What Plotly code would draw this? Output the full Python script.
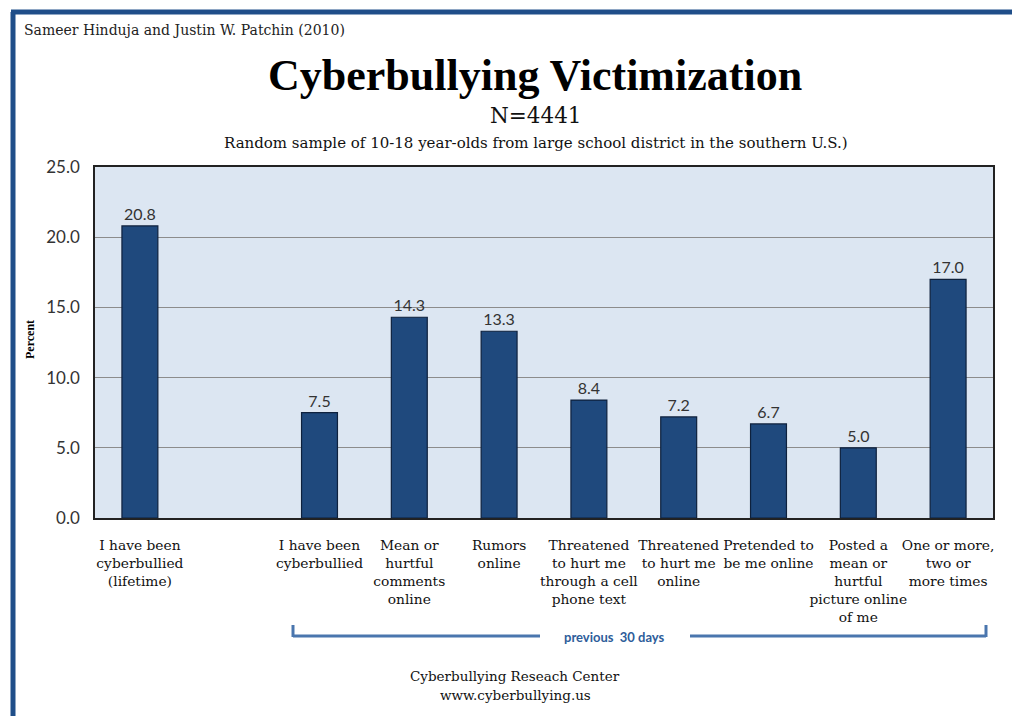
import plotly.graph_objects as go

categories = [
    "I have been<br>cyberbullied<br>(lifetime)",
    " ",
    "I have been<br>cyberbullied",
    "Mean or<br>hurtful<br>comments<br>online",
    "Rumors<br>online",
    "Threatened<br>to hurt me<br>through a cell<br>phone text",
    "Threatened<br>to hurt me<br>online",
    "Pretended to<br>be me online",
    "Posted a<br>mean or<br>hurtful<br>picture online<br>of me",
    "One or more,<br>two or<br>more times",
]
values = [20.8, None, 7.5, 14.3, 13.3, 8.4, 7.2, 6.7, 5.0, 17.0]
value_labels = ["20.8", "", "7.5", "14.3", "13.3", "8.4", "7.2", "6.7", "5.0", "17.0"]
y_ticks = [0, 5, 10, 15, 20, 25]
y_tick_labels = ["0.0", "5.0", "10.0", "15.0", "20.0", "25.0"]

SERIF = "DejaVu Serif"
TITLE_SERIF = "Liberation Serif"
SANS = "Lato"

OFF = 8  # page body margin
FW, FH = 1020 - OFF, 716 - OFF

fig = go.Figure()
fig.add_trace(go.Bar(
    x=categories, y=values, width=0.4,
    marker=dict(color="#1F497D", line=dict(color="#0E213D", width=1.2)),
    text=value_labels, textposition="outside", cliponaxis=False,
    textfont=dict(family=SANS, size=16, color="#333333"),
))

# plot-area geometry (reference px) used to place decorations in paper coords
L, R, T, B = 95, 993, 167, 518
W, H = R - L, B - T
def px(x): return (x - L) / W
def py(y): return (B - y) / H

shapes = []
frame_col = "#1F4E89"
shapes.append(dict(type="line", xref="paper", yref="paper", x0=px(13), x1=px(13), y0=py(12), y1=py(730), line=dict(color=frame_col, width=5)))
shapes.append(dict(type="line", xref="paper", yref="paper", x0=px(11), x1=px(1017), y0=py(12), y1=py(12), line=dict(color=frame_col, width=5)))
shapes.append(dict(type="line", xref="paper", yref="paper", x0=px(1015), x1=px(1015), y0=py(10), y1=py(730), line=dict(color=frame_col, width=5)))
br_col = "#4A76AE"
shapes.append(dict(type="line", xref="paper", yref="paper", x0=px(293), x1=px(540), y0=py(636), y1=py(636), line=dict(color=br_col, width=3)))
shapes.append(dict(type="line", xref="paper", yref="paper", x0=px(293), x1=px(293), y0=py(625), y1=py(637), line=dict(color=br_col, width=3)))
shapes.append(dict(type="line", xref="paper", yref="paper", x0=px(690), x1=px(986), y0=py(636), y1=py(636), line=dict(color=br_col, width=3)))
shapes.append(dict(type="line", xref="paper", yref="paper", x0=px(986), x1=px(986), y0=py(625), y1=py(637), line=dict(color=br_col, width=3)))

annotations = [
    dict(text="Sameer Hinduja and Justin W. Patchin (2010)", x=px(22), y=py(30), xanchor="left", yanchor="middle",
         font=dict(family=SERIF, size=14, color="#222222")),
    dict(text="<b>Cyberbullying Victimization</b>", x=px(535), y=py(76), xanchor="center", yanchor="middle",
         font=dict(family=TITLE_SERIF, size=44, color="#000000")),
    dict(text="N=4441", x=px(536), y=py(115), xanchor="center", yanchor="middle",
         font=dict(family=SERIF, size=21.5, color="#111111")),
    dict(text="Random sample of 10-18 year-olds from large school district in the southern U.S.)", x=px(536), y=py(143),
         xanchor="center", yanchor="middle", font=dict(family=SERIF, size=15, color="#111111")),
    dict(text="<b>Percent</b>", x=px(30), y=py(340), textangle=-90, xanchor="center", yanchor="middle",
         font=dict(family=TITLE_SERIF, size=12, color="#000000")),
    dict(text="<b>previous  30 days</b>", x=px(614), y=py(637), xanchor="center", yanchor="middle",
         font=dict(family=SANS, size=13, color="#2E5D9A")),
    dict(text="Cyberbullying Reseach Center", x=px(515), y=py(676), xanchor="center", yanchor="middle",
         font=dict(family=SERIF, size=13.5, color="#111111")),
    dict(text="www.cyberbullying.us", x=px(515), y=py(695), xanchor="center", yanchor="middle",
         font=dict(family=SERIF, size=13.5, color="#111111")),
]
for a in annotations:
    a.update(xref="paper", yref="paper", showarrow=False)

fig.update_layout(
    width=FW, height=FH,
    margin=dict(l=L - OFF, r=FW - (R - OFF), t=T - OFF, b=FH - (B - OFF)),
    paper_bgcolor="white", plot_bgcolor="#DCE6F2",
    showlegend=False, bargap=0.6,
    shapes=shapes, annotations=annotations,
    xaxis=dict(type="category", showgrid=False, showline=True, linecolor="#222222", linewidth=1.5, mirror=True,
               tickangle=0,
               tickfont=dict(family=SERIF, size=13.8, color="#111111"), ticks="", ticklabelstandoff=14),
    yaxis=dict(range=[0, 25], tickvals=y_ticks, ticktext=y_tick_labels, showgrid=True, gridcolor="#8C8C8C", gridwidth=1,
               showline=True, linecolor="#222222", linewidth=1.5, mirror=True, zeroline=False,
               tickfont=dict(family=SANS, size=17, color="#333333"), ticks="", ticklabelstandoff=10),
)

fig.write_html("out.html")
